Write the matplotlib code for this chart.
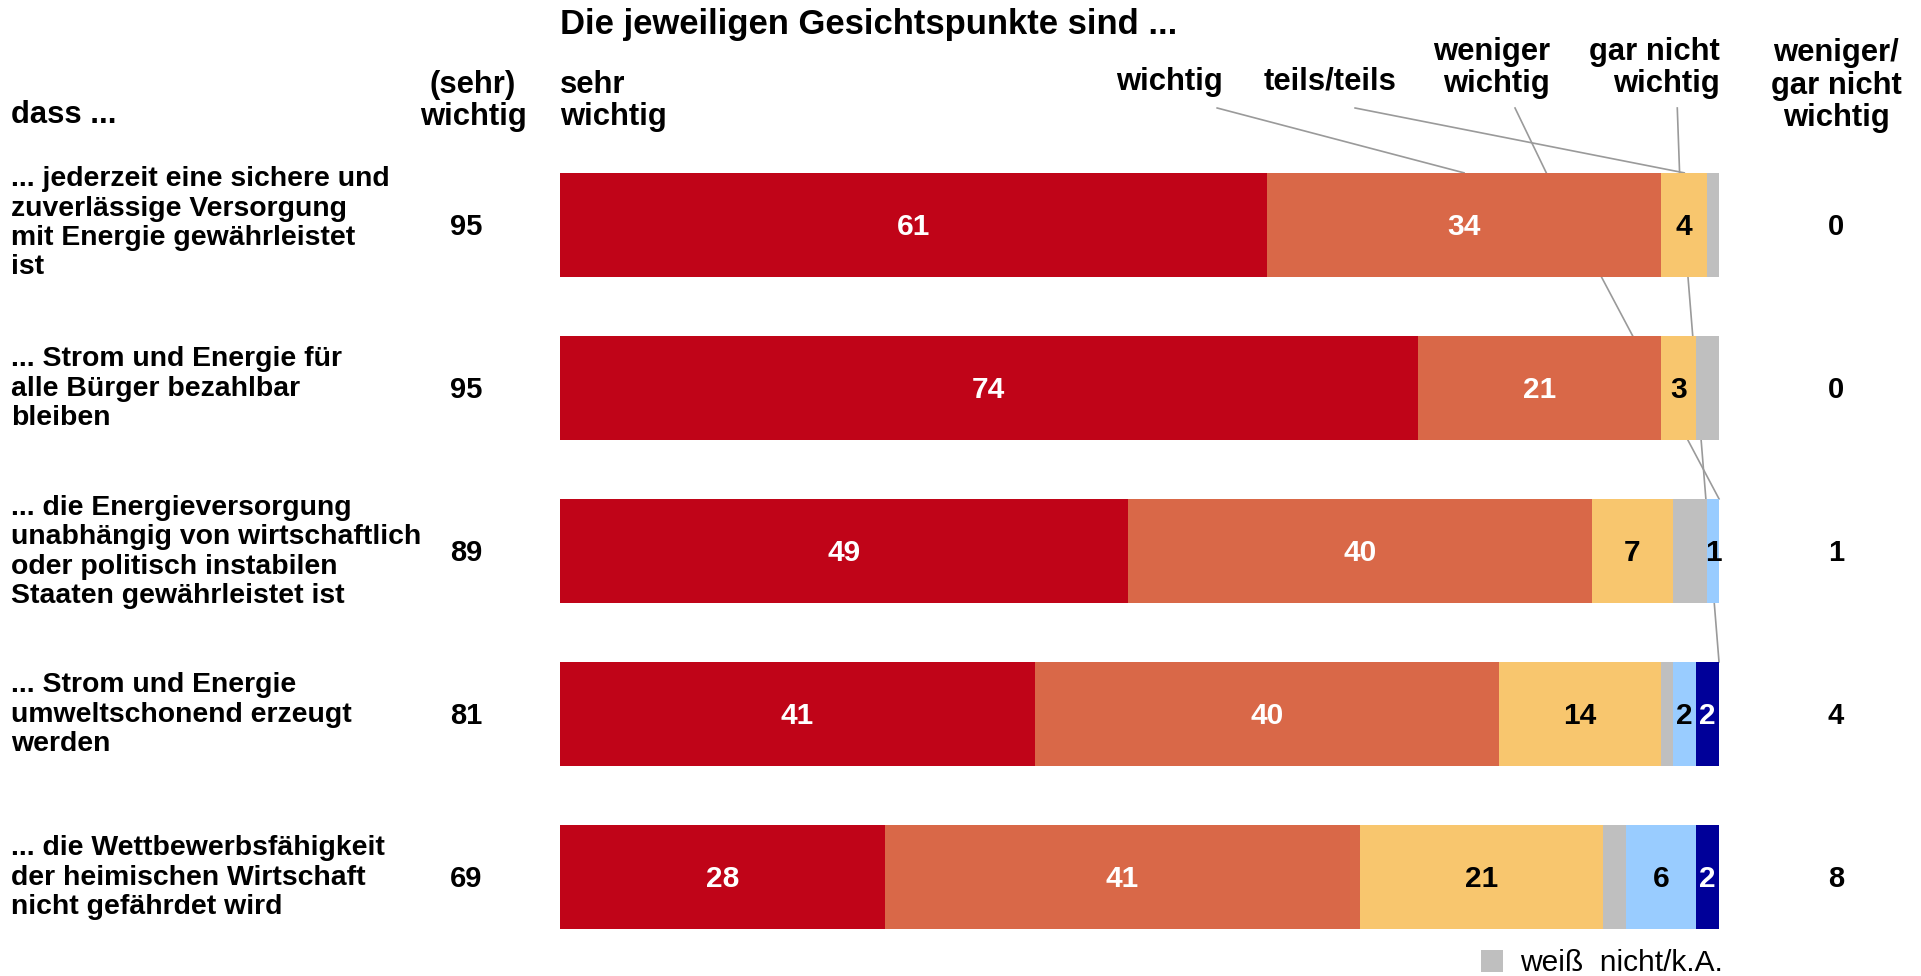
import matplotlib
matplotlib.use("Agg")
import matplotlib.pyplot as plt
from matplotlib.transforms import blended_transform_factory
from matplotlib.patches import Rectangle
import numpy as np

plt.rcParams['font.family'] = ['Liberation Sans', 'DejaVu Sans']

# ---------------- data ----------------
row_labels = [
    "... jederzeit eine sichere und\nzuverlässige Versorgung\nmit Energie gewährleistet\nist",
    "... Strom und Energie für\nalle Bürger bezahlbar\nbleiben",
    "... die Energieversorgung\nunabhängig von wirtschaftlich\noder politisch instabilen\nStaaten gewährleistet ist",
    "... Strom und Energie\numweltschonend erzeugt\nwerden",
    "... die Wettbewerbsfähigkeit\nder heimischen Wirtschaft\nnicht gefährdet wird",
]
sehr_wichtig = [61, 74, 49, 41, 28]
wichtig = [34, 21, 40, 40, 41]
teils_teils = [4, 3, 7, 14, 21]
weiss_nicht = [1, 2, 3, 1, 2]
weniger_wichtig = [0, 0, 1, 2, 6]
gar_nicht_wichtig = [0, 0, 0, 2, 2]

series = [sehr_wichtig, wichtig, teils_teils, weiss_nicht, weniger_wichtig, gar_nicht_wichtig]
colors = ["#C00418", "#D96848", "#F8C66E", "#BFBFBF", "#99CCFF", "#000099"]
text_colors = ["white", "white", "black", None, "black", "white"]
show_label = [True, True, True, False, True, True]

sum_wichtig = [a + b for a, b in zip(sehr_wichtig, wichtig)]
sum_unwichtig = [a + b for a, b in zip(weniger_wichtig, gar_nicht_wichtig)]

# ---------------- layout ----------------
W, H = 1921, 976
fig = plt.figure(figsize=(W / 100, H / 100), dpi=100)

x0_px, x1_px = 560, 1719
row0_px, step_px = 225, 163
ax = fig.add_axes([x0_px / W, 0, (x1_px - x0_px) / W, 1])
ax.set_xlim(0, 100)
ax.set_ylim((H - row0_px) / step_px, (0 - row0_px) / step_px)
ax.axis('off')

def ypx(p):
    return (p - row0_px) / step_px

def fx(p):
    return p / W

def fy(p):
    return 1 - p / H

rows = np.arange(len(row_labels))
bar_h = 0.64
vals = np.array(series, dtype=float)
lefts = np.vstack([np.zeros(len(rows)), np.cumsum(vals, axis=0)[:-1]])

for j in range(len(series)):
    ax.barh(rows, vals[j], left=lefts[j], height=bar_h, color=colors[j],
            edgecolor='none', zorder=2)
    if show_label[j]:
        for i in rows:
            v = vals[j][i]
            if v > 0:
                ax.text(lefts[j][i] + v / 2, i + 0.015, f"{int(v)}", ha='center', va='center',
                        fontsize=21.5, fontweight='bold', color=text_colors[j], zorder=3)

# ---------------- leader lines ----------------
top0 = -bar_h / 2
lab_y = ypx(108)
lc = "#9A9A9A"
lw = 1.2
# wichtig -> centre of orange segment, row 0
ax.plot([56.7, lefts[1][0] + vals[1][0] / 2], [lab_y, top0], color=lc, lw=lw, zorder=1, clip_on=False)
# teils/teils -> centre of yellow segment, row 0
ax.plot([68.6, lefts[2][0] + vals[2][0] / 2], [lab_y, top0], color=lc, lw=lw, zorder=1, clip_on=False)
# weniger wichtig -> light blue segment, row 2
ax.plot([82.4, 85.1, lefts[4][2] + vals[4][2]], [lab_y, top0, 2 - bar_h / 2],
        color=lc, lw=lw, zorder=1, clip_on=False)
# gar nicht wichtig -> dark blue segment, row 3
ax.plot([96.4, 96.6, lefts[5][3] + vals[5][3]], [lab_y, top0, 3 - bar_h / 2],
        color=lc, lw=lw, zorder=1, clip_on=False)

# ---------------- texts ----------------
bt = blended_transform_factory(fig.transFigure, ax.transData)
for i, lab in enumerate(row_labels):
    dy = -0.01 if i == 0 else 0.005
    ax.text(fx(11), i + dy, lab, transform=bt, ha='left', va='center',
            fontsize=20.4, fontweight='bold', linespacing=1.17)
    ax.text(fx(466), i + 0.01, f"{sum_wichtig[i]}", transform=bt, ha='center', va='center',
            fontsize=21, fontweight='bold')
    ax.text(fx(1836), i + 0.01, f"{sum_unwichtig[i]}", transform=bt, ha='center', va='center',
            fontsize=21, fontweight='bold')

hfs = 22.3
fig.text(fx(560), fy(34), "Die jeweiligen Gesichtspunkte sind ...", ha='left', va='baseline',
         fontsize=24.9, fontweight='bold')
fig.text(fx(11), fy(123), "dass ...", ha='left', va='baseline', fontsize=hfs, fontweight='bold')
fig.text(fx(473), fy(125), "(sehr)\nwichtig", ha='center', va='baseline', fontsize=hfs,
         fontweight='bold', linespacing=1.08, multialignment='center')
fig.text(fx(560), fy(125), "sehr\nwichtig", ha='left', va='baseline', fontsize=hfs,
         fontweight='bold', linespacing=1.08)
fig.text(fx(1169), fy(90), "wichtig", ha='center', va='baseline', fontsize=hfs, fontweight='bold')
fig.text(fx(1330), fy(90), "teils/teils", ha='center', va='baseline', fontsize=hfs, fontweight='bold')
fig.text(fx(1550), fy(92), "weniger\nwichtig", ha='right', va='baseline', fontsize=hfs,
         fontweight='bold', linespacing=1.08, multialignment='right')
fig.text(fx(1720), fy(92), "gar nicht\nwichtig", ha='right', va='baseline', fontsize=hfs,
         fontweight='bold', linespacing=1.08, multialignment='right')
fig.text(fx(1836), fy(126), "weniger/\ngar nicht\nwichtig", ha='center', va='baseline', fontsize=hfs,
         fontweight='bold', linespacing=1.1, multialignment='center')

# legend for the unlabeled grey segment
fig.patches.append(Rectangle((fx(1481), fy(972)), 22 / W, 22 / H, transform=fig.transFigure,
                             facecolor=colors[3], edgecolor='none'))
fig.text(fx(1520), fy(971), "weiß  nicht/k.A.", ha='left', va='baseline', fontsize=21.5)

fig.savefig("out.png", dpi=100)
